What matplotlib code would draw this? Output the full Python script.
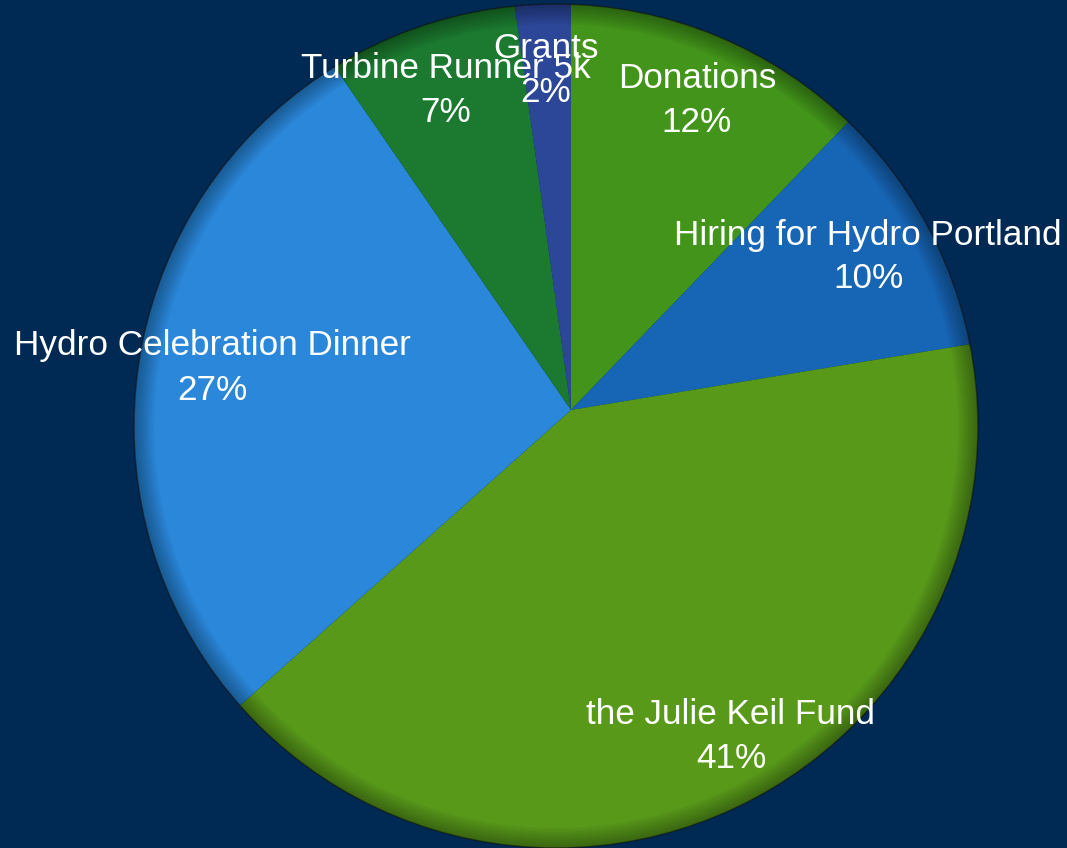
import matplotlib.pyplot as plt
from matplotlib.patches import Circle

# slice data, clockwise from 12 o'clock
labels = ["Donations", "Hiring for Hydro Portland", "the Julie Keil Fund",
          "Hydro Celebration Dinner", "Turbine Runner 5k", "Grants"]
shares = [12.2, 10.2, 41.0, 27.0, 7.4, 2.2]
pct_text = ["12%", "10%", "41%", "27%", "7%", "2%"]
colors = ["#43941a", "#1765b5", "#58991a", "#2b87d9", "#1b7a30", "#2d4798"]


def main():
    bg = "#002a54"
    fig = plt.figure(figsize=(10.67, 8.48), dpi=100, facecolor=bg)
    ax = fig.add_axes([0, 0, 1, 1])
    ax.set_facecolor(bg)

    # the pie is tilted: wedges meet off-centre, outline is a plain circle
    apex = (571, 438)
    rim_c = (556, 422)
    rim_r = 422

    wedges, _ = ax.pie(shares, colors=colors, startangle=90, counterclock=False,
                       center=apex, radius=460, frame=True,
                       wedgeprops=dict(linewidth=0))
    ax.set_xlim(0, 1067)
    ax.set_ylim(0, 848)
    ax.set_aspect("equal")
    ax.axis("off")

    clip = Circle(rim_c, rim_r, transform=ax.transData)
    for w in wedges:
        w.set_clip_on(True)
        w.set_clip_path(clip)

    # soft dark rim along the edge
    for i in range(10):
        ring = Circle(rim_c, rim_r, fill=False, edgecolor="black",
                      linewidth=2 + 3 * i, alpha=0.035)
        ax.add_patch(ring)
        ring.set_clip_path(clip)
    ax.add_patch(Circle(rim_c, rim_r, fill=False, edgecolor="#101010",
                        linewidth=1.0, alpha=0.6))

    # label positions (pixel coords from top)
    label_pos = [(697, 79), (868, 235), (731, 714), (212, 346), (446, 69), (546, 48)]
    for name, pct, (x, y) in zip(labels, pct_text, label_pos):
        ax.text(x, 848 - y, name, color="white", fontsize=25.3,
                family="Liberation Sans", ha="center", va="center")
        ax.text(x, 848 - y - 44, pct, color="white", fontsize=25.3,
                family="Liberation Sans", ha="center", va="center")

    fig.savefig("out.png", dpi=100, facecolor=bg)


if __name__ == "__main__":
    main()
